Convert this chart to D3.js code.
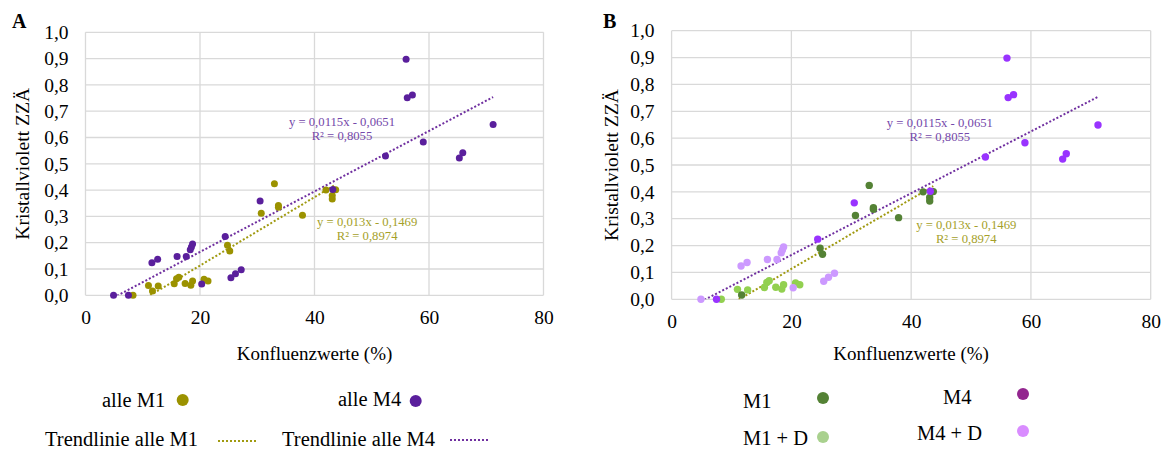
<!DOCTYPE html>
<html><head><meta charset="utf-8">
<script src="https://cdn.jsdelivr.net/npm/d3@7"></script>
<style>
html,body{margin:0;padding:0;background:#fff;}
svg text{font-family:"Liberation Serif","Times New Roman",serif;}
</style></head>
<body><svg id="c" width="1171" height="450"></svg>
<script>
// ---- data ----
const m1X  = [11.7, 24.8, 25.2, 30.7, 33.0, 33.7, 33.7, 37.9, 42.0, 43.1, 43.1, 43.7];
const m1Y  = [0.016, 0.190, 0.168, 0.312, 0.424, 0.341, 0.335, 0.304, 0.400, 0.379, 0.366, 0.401];
const m1dX = [8.3, 11.0, 12.7, 15.5, 15.9, 16.3, 17.4, 18.4, 18.7, 20.7, 21.4];
const m1dY = [0.000, 0.037, 0.035, 0.044, 0.063, 0.069, 0.045, 0.038, 0.054, 0.061, 0.054];
const m4X  = [7.5, 24.4, 30.5, 43.2, 52.4, 56.0, 56.2, 57.1, 59.0, 65.3, 65.9, 71.2];
const m4Y  = [0.000, 0.224, 0.359, 0.402, 0.530, 0.898, 0.751, 0.762, 0.583, 0.522, 0.542, 0.649];
const m4dX = [4.9, 11.6, 12.6, 16.0, 17.6, 18.3, 18.5, 18.7, 20.3, 25.4, 26.2, 27.2];
const m4dY = [0.000, 0.124, 0.137, 0.148, 0.148, 0.173, 0.184, 0.195, 0.043, 0.067, 0.082, 0.097];
const xTicks = [0, 20, 40, 60, 80];
const yTicks = [0, 0.1, 0.2, 0.3, 0.4, 0.5, 0.6, 0.7, 0.8, 0.9, 1.0];
const trendM1 = [0.013, -0.1469];
const trendM4 = [0.0115, -0.0651];
const eqM1 = ["y = 0,013x - 0,1469", "R² = 0,8974"];
const eqM4 = ["y = 0,0115x - 0,0651", "R² = 0,8055"];
const xTitle = "Konfluenzwerte (%)";
const yTitle = "Kristallviolett ZZÄ";

const zip = (xs, ys) => xs.map((x, i) => ({x, y: ys[i]}));
const svg = d3.select("#c");
const fmtY = v => d3.format(".1f")(v).replace(".", ",");

function panel(cfg) {
  const g = svg.append("g");
  const x = d3.scaleLinear().domain([0, 80]).range([cfg.x0, cfg.x1]);
  const y = d3.scaleLinear().domain([0, 1]).range([cfg.y0, cfg.y1]);
  const cid = "clip" + cfg.id;
  svg.append("defs").append("clipPath").attr("id", cid)
    .append("rect").attr("x", cfg.x0).attr("y", cfg.y1).attr("width", cfg.x1 - cfg.x0).attr("height", cfg.y0 - cfg.y1);
  // grid
  g.append("g").selectAll("line").data(yTicks).join("line")
    .attr("x1", cfg.x0).attr("x2", cfg.x1).attr("y1", d => y(d)).attr("y2", d => y(d))
    .attr("stroke", "#d9d9d9").attr("stroke-width", 1.3);
  g.append("g").selectAll("line").data(xTicks).join("line")
    .attr("y1", cfg.y0).attr("y2", cfg.y1).attr("x1", d => x(d)).attr("x2", d => x(d))
    .attr("stroke", "#d9d9d9").attr("stroke-width", 1.3);
  // tick labels via axes
  const ya = d3.axisLeft(y).tickValues(yTicks).tickFormat(fmtY).tickSize(0).tickPadding(17);
  const ay = g.append("g").attr("transform", `translate(${cfg.x0},0)`).call(ya);
  ay.select(".domain").remove();
  ay.selectAll("text").attr("font-size", 19.5).attr("fill", "#000");
  const xa = d3.axisBottom(x).tickValues(xTicks).tickFormat(d3.format("d")).tickSize(0).tickPadding(15);
  const ax = g.append("g").attr("transform", `translate(0,${cfg.y0})`).call(xa);
  ax.select(".domain").remove();
  ax.selectAll("text").attr("font-size", 19.5).attr("fill", "#000");
  // titles
  g.append("text").attr("x", (cfg.x0 + cfg.x1) / 2).attr("y", 360).attr("text-anchor", "middle")
    .attr("font-size", 19).text(xTitle);
  g.append("text").attr("transform", `translate(${cfg.yTitleX},${(cfg.y0 + cfg.y1) / 2}) rotate(-90)`)
    .attr("text-anchor", "middle").attr("font-size", 19.6).text(yTitle);
  g.append("text").attr("x", cfg.labX).attr("y", 28).attr("font-size", 20).attr("font-weight", "bold").text(cfg.label);
  // trendlines
  const trend = (xs, coef, color) => {
    const xa0 = d3.min(xs), xa1 = d3.max(xs);
    g.append("line").attr("clip-path", `url(#${cid})`)
      .attr("x1", x(xa0)).attr("y1", y(coef[0] * xa0 + coef[1]))
      .attr("x2", x(xa1)).attr("y2", y(coef[0] * xa1 + coef[1]))
      .attr("stroke", color).attr("stroke-width", 2).attr("stroke-dasharray", "2,2");
  };
  trend(m4X.concat(m4dX), trendM4, "#7030a0");
  trend(m1X.concat(m1dX), trendM1, "#a09a10");
  // points
  cfg.series.forEach(s => {
    g.append("g").selectAll("circle").data(s.data).join("circle")
      .attr("cx", d => x(d.x)).attr("cy", d => y(d.y)).attr("r", cfg.r).attr("fill", s.color);
  });
  // equations
  const eq = (lines, cx, yb, color) => {
    lines.forEach((t, i) => g.append("text").attr("x", cx).attr("y", yb + i * 14)
      .attr("text-anchor", "middle").attr("font-size", 12.7).attr("fill", color).text(t));
  };
  eq(eqM4, x(cfg.eq4[0]), y(cfg.eq4[1]), "#7448aa");
  eq(eqM1, x(cfg.eq1[0]), y(cfg.eq1[1]), "#a59f2a");
  return g;
}

panel({id: "A", label: "A", labX: 12, x0: 85.5, x1: 543.5, y0: 295.3, y1: 32.3, yTitleX: 29, r: 3.5,
  eq4: [44.8, 0.643], eq1: [49.2, 0.263],
  series: [
    {data: zip(m1X.concat(m1dX), m1Y.concat(m1dY)), color: "#9b9200"},
    {data: zip(m4X.concat(m4dX), m4Y.concat(m4dY)), color: "#5a1f9c"}
  ]});
panel({id: "B", label: "B", labX: 603, x0: 671.6, x1: 1150.7, y0: 299.3, y1: 30.7, yTitleX: 618, r: 3.7,
  eq4: [44.8, 0.643], eq1: [49.2, 0.263],
  series: [
    {data: zip(m1dX, m1dY), color: "#92d050"},
    {data: zip(m4dX, m4dY), color: "#cc99ff"},
    {data: zip(m1X, m1Y), color: "#548235"},
    {data: zip(m4X, m4Y), color: "#9933ff"}
  ]});

// legends
const leg = svg.append("g").attr("font-size", 20.5);
function legText(t, x, y, anchor) { leg.append("text").attr("x", x).attr("y", y).attr("text-anchor", anchor || "start").text(t); }
function legDot(x, y, c) { leg.append("circle").attr("cx", x).attr("cy", y).attr("r", 6).attr("fill", c); }
function legLine(x, y, c) { leg.append("line").attr("x1", x).attr("x2", x + 39).attr("y1", y).attr("y2", y)
  .attr("stroke", c).attr("stroke-width", 2).attr("stroke-dasharray", "2,2"); }
legText("alle M1", 102, 407); legDot(182.7, 400, "#9b9200");
legText("alle M4", 338, 406); legDot(415.7, 401, "#5a1f9c");
legText("Trendlinie alle M1", 45, 446); legLine(218, 441, "#a09a10");
legText("Trendlinie alle M4", 282, 446); legLine(450, 440, "#7030a0");
legText("M1", 743, 408); legDot(823, 398, "#548235");
legText("M4", 943, 404); legDot(1023, 394, "#93268f");
legText("M1 + D", 743, 445); legDot(823, 437, "#a9d18e");
legText("M4 + D", 917, 440); legDot(1023, 431, "#d98cff");
</script></body></html>
